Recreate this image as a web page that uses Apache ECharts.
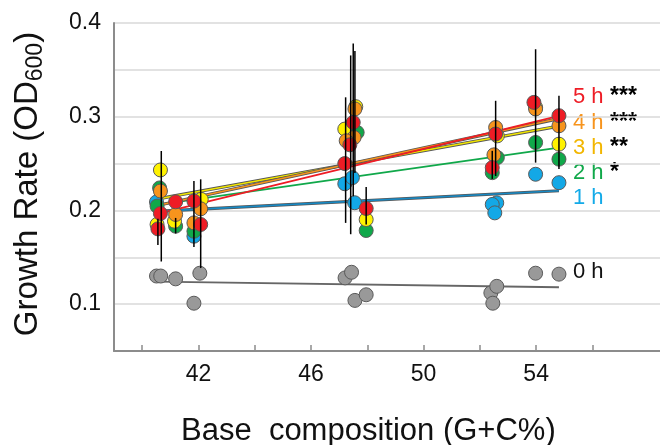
<!DOCTYPE html>
<html>
<head>
<meta charset="utf-8">
<script src="https://cdn.jsdelivr.net/npm/echarts@6/dist/echarts.min.js"></script>
<style>html,body{margin:0;padding:0;background:#fff}#c{width:660px;height:445px}</style>
</head>
<body>
<div id="c"></div>
<script>
// ---- data (G+C %, growth rate OD600) ----
const xTicks = [40, 42, 44, 46, 48, 50, 52, 54, 56];
const xLabels = [42, 46, 50, 54];
const yLabels = [0.1, 0.2, 0.3, 0.4];

const h0 = [[40.51,0.130],[40.66,0.130],[41.19,0.127],[41.84,0.101],[42.05,0.133],[47.21,0.128],[47.44,0.134],[47.56,0.104],[47.96,0.110],[52.39,0.112],[52.60,0.119],[52.46,0.101],[53.98,0.133],[54.81,0.132]];
const h1 = [[40.51,0.209],[41.84,0.1725],[47.20,0.2285],[47.47,0.235],[47.55,0.2082],[52.60,0.2081],[52.44,0.2064],[52.53,0.1974],[53.98,0.2386],[54.81,0.2296]];
const h2 = [[40.62,0.224],[40.53,0.2046],[41.19,0.1832],[41.84,0.1778],[47.64,0.2832],[47.96,0.1786],[52.62,0.2564],[52.44,0.2403],[53.98,0.2725],[54.81,0.2547]];
const h3 = [[40.65,0.2432],[40.53,0.185],[41.15,0.1885],[42.10,0.2118],[47.20,0.2868],[47.59,0.3107],[47.96,0.1903],[52.62,0.2796],[53.98,0.310],[54.81,0.2707]];
const h4 = [[40.65,0.2207],[41.19,0.1957],[42.08,0.2017],[41.84,0.1867],[47.56,0.3083],[47.53,0.2778],[47.25,0.2743],[52.56,0.2885],[52.50,0.2593],[53.98,0.3083],[54.81,0.2903]];
const h5 = [[40.65,0.1968],[40.56,0.1803],[41.19,0.2092],[41.84,0.210],[42.08,0.185],[47.50,0.2939],[47.38,0.270],[47.20,0.250],[47.96,0.2021],[52.56,0.2815],[52.44,0.2457],[53.92,0.3153],[54.81,0.3011]];

// regression line end points
const fitX = [40.5, 54.81];
const fit0 = [0.124, 0.118];
const fit1 = [0.199, 0.221];
const fit2 = [0.206, 0.267];
const fit3 = [0.212, 0.290];
const fit4 = [0.205, 0.298];
const fit5 = [0.196, 0.301];

// error bars
const errX  = [40.68, 40.56, 41.19, 41.84, 42.08, 47.23, 47.41, 47.50, 47.56, 47.96, 52.56, 52.44, 53.98, 54.81];
const errLo = [0.1455,0.163,0.1754,0.161,0.1385,0.1867,0.1746,0.215,0.240,0.185,0.2367,0.2336,0.251,0.2443];
const errHi = [0.2634,0.191,0.192,0.2314,0.2332,0.3207,0.3654,0.378,0.370,0.2249,0.317,0.2636,0.372,0.3225];

const timeLabels = ['0 h','1 h','2 h','3 h','4 h','5 h'];
const stars = ['', '', '*', '**', '***', '***'];

// ---- styles ----
const FONT = 'Liberation Sans, Arial, sans-serif';
const markerColors = ['#999999','#13a8e6','#10a84a','#fff200','#f7941d','#ee1c25'];
const lineColors   = ['#666666','#1789c4','#10a84a','#f2e600','#f7941d','#ee1c25'];
const outline      = [false, true, false, true, true, false];
const textColors   = ['#111111','#13aae8','#10a84a','#f2b600','#f7941d','#ee1c25'];
const labelY = [271.6, 198, 173, 148.3, 123, 97.3];

const allPts = [h0,h1,h2,h3,h4,h5];
const allFits = [fit0,fit1,fit2,fit3,fit4,fit5];

const series = [];
allFits.forEach((f, i) => {
  const data = fitX.map((x, k) => [x, f[k]]);
  if (outline[i]) {
    series.push({type:'line', data, symbol:'none', silent:true, z:2,
      lineStyle:{color:'#555', width:3.2}});
  }
  series.push({type:'line', data, symbol:'none', silent:true, z:2,
    lineStyle:{color:lineColors[i], width: outline[i] ? 1.6 : 1.8}});
});
allPts.forEach((pts, i) => {
  series.push({type:'scatter', data:pts, symbol:'circle', symbolSize:14, z:3,
    itemStyle:{color:markerColors[i], borderColor:'#5a5a5a', borderWidth:1, opacity:1}});
});
series.push({
  type:'custom', z:4, silent:true,
  data: errX.map((x, i) => [x, errLo[i], errHi[i]]),
  renderItem: (params, api) => {
    const p1 = api.coord([api.value(0), api.value(1)]);
    const p2 = api.coord([api.value(0), api.value(2)]);
    return {type:'line', shape:{x1:p1[0], y1:p1[1], x2:p2[0], y2:p2[1]},
      style:{stroke:'#000', lineWidth:1.5}};
  }
});

const graphics = [];
timeLabels.forEach((t, i) => {
  graphics.push({type:'text', left:573, top:labelY[i]-11, silent:true,
    style:{text:t, fill:textColors[i], font:'22px ' + FONT}});
  if (stars[i]) {
    graphics.push({type:'text', left:610, top:labelY[i]-12, silent:true,
      style:{text:stars[i], fill:'#000', font:'bold 23px ' + FONT}});
  }
});
graphics.push({type:'text', left:181, top:416, silent:true,
  style:{text:'Base  composition (G+C%)', fill:'#111', font:'31px ' + FONT}});
graphics.push({type:'text', x:28, y:184, rotation:Math.PI/2, silent:true,
  style:{text:'{a|Growth Rate (OD}{b|600}{a|)}', align:'center', verticalAlign:'middle',
    rich:{a:{font:'33px ' + FONT, fill:'#111', verticalAlign:'bottom'},
          b:{font:'23px ' + FONT, fill:'#111', verticalAlign:'bottom', padding:[0,0,-3,0]}}}});

const chart = echarts.init(document.getElementById('c'), null, {renderer:'canvas'});
chart.setOption({
  animation:false,
  backgroundColor:'#fff',
  grid:{left:114, right:0, top:23, bottom:94},
  xAxis:{type:'value', min:39, max:58.4,
    axisLine:{show:true, lineStyle:{color:'#8c8c8c', width:2}},
    axisTick:{show:true, inside:true, length:6, customValues:xTicks, lineStyle:{color:'#8c8c8c', width:1.5}},
    axisLabel:{customValues:xLabels, fontSize:23, color:'#111', margin:12, fontFamily:FONT},
    splitLine:{show:false}},
  yAxis:{type:'value', min:0.05, max:0.4, interval:0.05,
    axisLine:{show:true, lineStyle:{color:'#8c8c8c', width:2}},
    axisTick:{show:false},
    axisLabel:{customValues:yLabels, formatter:v => v.toFixed(1), fontSize:23, color:'#111', margin:13, fontFamily:FONT},
    splitLine:{show:true, lineStyle:{color:'#d9d9d9', width:1.5}}},
  series,
  graphic:graphics
});
</script>
</body>
</html>
